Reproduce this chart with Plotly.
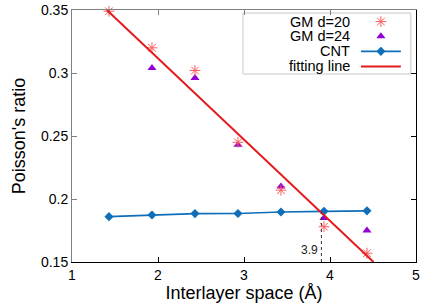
import plotly.graph_objects as go

# ---------------- data ----------------
spacing = [1.43, 1.93, 2.43, 2.93, 3.43, 3.93, 4.43]
gm20 = [0.349, 0.320, 0.302, 0.245, 0.207, 0.178, 0.157]
gm24 = [None, 0.304, 0.296, 0.243, 0.210, 0.185, 0.175]
cnt = [0.186, 0.1873, 0.1884, 0.1885, 0.1897, 0.1902, 0.1906]
fit_x = [1.405, 4.506]
fit_y = [0.350, 0.150]
cross_x = 3.9
cross_y = 0.1895
cross_label = "3.9"

x_ticks = [1, 2, 3, 4, 5]
x_ticktext = ["1", "2", "3", "4", "5"]
y_ticks = [0.15, 0.2, 0.25, 0.3, 0.35]
y_ticktext = ["0.15", "0.2", "0.25", "0.3", "0.35"]

legend_names = ["GM d=20", "GM d=24", "CNT", "fitting line"]

C_GM20 = "#ff5c5c"
C_GM24 = "#9400d3"
C_CNT = "#0e6eb8"
C_FIT = "#e41a1c"
FONT = "Liberation Sans, Arial, Helvetica, sans-serif"

fig = go.Figure()

fig.add_trace(go.Scatter(x=spacing, y=cnt, mode="lines+markers",
                         line=dict(color=C_CNT, width=1.6),
                         marker=dict(symbol="diamond", size=7, color=C_CNT),
                         cliponaxis=False, showlegend=False))
fig.add_trace(go.Scatter(x=spacing, y=gm24, mode="markers",
                         marker=dict(symbol="triangle-up", size=8, color=C_GM24),
                         cliponaxis=False, showlegend=False))
fig.add_trace(go.Scatter(x=spacing, y=gm20, mode="markers",
                         marker=dict(symbol="asterisk-open", size=9, color=C_GM20,
                                     line=dict(color=C_GM20, width=1)),
                         cliponaxis=False, showlegend=False))
fig.add_trace(go.Scatter(x=fit_x, y=fit_y, mode="lines",
                         line=dict(color=C_FIT, width=2),
                         showlegend=False))

# dotted marker line at the crossing point
fig.add_trace(go.Scatter(x=[cross_x, cross_x], y=[y_ticks[0], cross_y], mode="lines",
                         line=dict(color="#333333", width=1, dash="dot"),
                         showlegend=False))
fig.add_annotation(x=cross_x, y=0.1595, text=cross_label, showarrow=False,
                   xanchor="right", yanchor="middle", xshift=-1,
                   font=dict(size=12, color="#222222", family=FONT))

# mirrored axes (top gray, right black)
fig.add_trace(go.Scatter(x=[], y=[], xaxis="x2", yaxis="y2", showlegend=False))

# ---------------- custom legend (on a 0..1 overlay axis pair) ----------------
row_y = [0.954, 0.896, 0.836, 0.776]
text_x = 0.815
sym_x = 0.898
line_x = [0.840, 0.956]
fig.add_trace(go.Scatter(x=[sym_x], y=[row_y[0]], xaxis="x3", yaxis="y3", mode="markers",
                         marker=dict(symbol="asterisk-open", size=9, color=C_GM20,
                                     line=dict(color=C_GM20, width=1)),
                         showlegend=False, cliponaxis=False))
fig.add_trace(go.Scatter(x=[sym_x], y=[row_y[1]], xaxis="x3", yaxis="y3", mode="markers",
                         marker=dict(symbol="triangle-up", size=8, color=C_GM24),
                         showlegend=False, cliponaxis=False))
fig.add_trace(go.Scatter(x=line_x + [sym_x], y=[row_y[2]] * 3, xaxis="x3", yaxis="y3",
                         mode="lines", line=dict(color=C_CNT, width=1.6),
                         showlegend=False, cliponaxis=False))
fig.add_trace(go.Scatter(x=[sym_x], y=[row_y[2]], xaxis="x3", yaxis="y3", mode="markers",
                         marker=dict(symbol="diamond", size=7, color=C_CNT),
                         showlegend=False, cliponaxis=False))
fig.add_trace(go.Scatter(x=line_x, y=[row_y[3]] * 2, xaxis="x3", yaxis="y3",
                         mode="lines", line=dict(color=C_FIT, width=2),
                         showlegend=False, cliponaxis=False))
for name, ry in zip(legend_names, row_y):
    fig.add_annotation(x=text_x, y=ry, xref="x3", yref="y3", text=name, showarrow=False,
                       xanchor="right", yanchor="middle",
                       font=dict(size=14.5, color="black", family=FONT))
fig.add_shape(type="rect", xref="x3", yref="y3", x0=0.497, x1=0.985, y0=0.746, y1=0.988,
              line=dict(color="#c8c8c8", width=1), fillcolor="rgba(0,0,0,0)", layer="below")

axis_font = dict(size=14, color="black", family=FONT)
fig.update_layout(
    width=436, height=305,
    margin=dict(l=72, r=20, t=10, b=43, autoexpand=False),
    paper_bgcolor="white", plot_bgcolor="white",
    font=dict(family=FONT, color="black"),
    xaxis=dict(range=[1, 5], tickvals=x_ticks, ticktext=x_ticktext, ticks="inside",
               ticklen=5, tickcolor="black", showline=True, linecolor="black", linewidth=1,
               showgrid=False, zeroline=False, tickfont=axis_font, automargin=False,
               title=dict(text="Interlayer space (Å)", font=dict(size=18, family=FONT),
                          standoff=4)),
    yaxis=dict(range=[0.15, 0.35], tickvals=y_ticks, ticktext=y_ticktext, ticks="inside",
               ticklen=5, tickcolor="#808080", showline=True, linecolor="#808080", linewidth=1,
               showgrid=False, zeroline=False, tickfont=axis_font, automargin=False,
               title=dict(text="Poisson's ratio", font=dict(size=18, family=FONT),
                          standoff=10)),
    xaxis2=dict(range=[1, 5], overlaying="x", side="top", tickvals=x_ticks[1:-1],
                ticks="inside", ticklen=5, tickcolor="#808080", showticklabels=False,
                showline=True, linecolor="#808080", linewidth=1, showgrid=False,
                zeroline=False, automargin=False),
    yaxis2=dict(range=[0.15, 0.35], overlaying="y", side="right", tickvals=y_ticks[1:-1],
                ticks="inside", ticklen=5, tickcolor="black", showticklabels=False,
                showline=True, linecolor="black", linewidth=1, showgrid=False,
                zeroline=False, automargin=False),
    xaxis3=dict(range=[0, 1], overlaying="x", visible=False, fixedrange=True, automargin=False),
    yaxis3=dict(range=[0, 1], overlaying="y", visible=False, fixedrange=True, automargin=False),
)

fig.write_html("out.html", config={"displayModeBar": False},
               post_script="document.body.style.margin='0';document.body.style.overflow='hidden';")
